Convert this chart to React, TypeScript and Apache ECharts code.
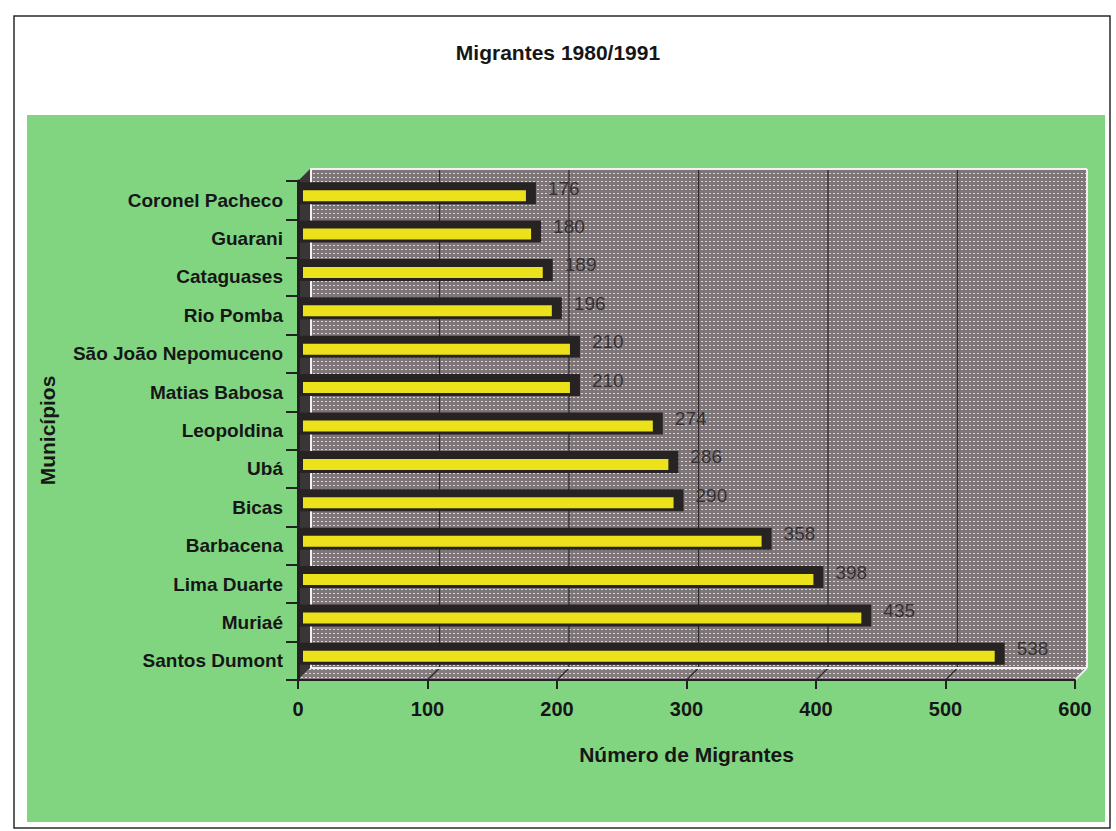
import React, { useEffect, useRef } from "react";
import * as echarts from "echarts";

const titleText = "Migrantes 1980/1991";
const categories = [
  "Coronel Pacheco",
  "Guarani",
  "Cataguases",
  "Rio Pomba",
  "São João Nepomuceno",
  "Matias Babosa",
  "Leopoldina",
  "Ubá",
  "Bicas",
  "Barbacena",
  "Lima Duarte",
  "Muriaé",
  "Santos Dumont",
];
const migrants = [176, 180, 189, 196, 210, 210, 274, 286, 290, 358, 398, 435, 538];
const xMin = 0;
const xMax = 600;
const xStep = 100;
const xInnerTicks = [100, 200, 300, 400, 500, 600];
const xAxisName = "Número de Migrantes";
const yAxisName = "Municípios";

const FONT = '"Liberation Sans", Arial, sans-serif';
const DEPTH = 12;

function makeDots(base: string, dot: string): any {
  try {
    const cv = document.createElement("canvas");
    cv.width = 4;
    cv.height = 4;
    const ctx = cv.getContext("2d");
    if (!ctx) return base;
    ctx.fillStyle = base;
    ctx.fillRect(0, 0, 4, 4);
    ctx.fillStyle = dot;
    ctx.fillRect(1, 1, 2, 1);
    return { image: cv, repeat: "repeat" };
  } catch (e) {
    return base;
  }
}

export default function App() {
  const ref = useRef<HTMLDivElement>(null);

  useEffect(() => {
    document.body.style.margin = "0";
    if (!ref.current) return;
    const chart = echarts.init(ref.current, null, { renderer: "svg" });

    const barData = migrants.map((v, i) => [v, i]);
    const wallFill = makeDots("#7d7577", "#d9d5d5");
    const floorFill = makeDots("#837b7d", "#dcd8d8");

    const option: any = {
      animation: false,
      backgroundColor: "#ffffff",
      title: {
        text: titleText,
        left: "center",
        top: 37,
        textStyle: { fontFamily: FONT, fontWeight: "bold", fontSize: 21, color: "#161616" },
      },
      graphic: [
        {
          type: "rect",
          z: -20,
          shape: { x: 14, y: 16, width: 1096, height: 812 },
          style: { fill: "#ffffff", stroke: "#2a2a2a", lineWidth: 1.5 },
        },
        {
          type: "rect",
          z: -19,
          shape: { x: 27, y: 115, width: 1078, height: 707 },
          style: { fill: "#81d581" },
        },
      ],
      grid: { left: 298, right: 41, top: 181, bottom: 151, containLabel: false },
      xAxis: {
        type: "value",
        min: xMin,
        max: xMax,
        interval: xStep,
        z: 5,
        name: xAxisName,
        nameLocation: "middle",
        nameGap: 64,
        nameTextStyle: { fontFamily: FONT, fontWeight: "bold", fontSize: 21, color: "#161616" },
        axisLine: { show: true, lineStyle: { color: "#222", width: 2 } },
        axisTick: { show: true, length: 9, lineStyle: { color: "#222", width: 2 } },
        axisLabel: { fontFamily: FONT, fontWeight: "bold", fontSize: 20, color: "#161616", margin: 19 },
        splitLine: { show: false },
      },
      yAxis: {
        type: "category",
        data: categories,
        inverse: true,
        z: 5,
        name: yAxisName,
        nameLocation: "middle",
        nameGap: 240,
        nameRotate: 90,
        nameTextStyle: { fontFamily: FONT, fontWeight: "bold", fontSize: 21, color: "#161616" },
        axisLine: { show: true, lineStyle: { color: "#222", width: 3 } },
        axisTick: { show: true, length: 12, lineStyle: { color: "#222", width: 2 } },
        axisLabel: { fontFamily: FONT, fontWeight: "bold", fontSize: 19, color: "#161616", margin: 15 },
        splitLine: { show: false },
      },
      series: [
        {
          type: "custom",
          name: "walls",
          z: 1,
          silent: true,
          clip: false,
          data: [[0, 0]],
          renderItem: (params: any, api: any) => {
            const cs = params.coordSys;
            const x = cs.x, y = cs.y, w = cs.width, h = cs.height;
            const d = DEPTH;
            const children: any[] = [
              {
                type: "rect",
                shape: { x: x + d, y: y - d, width: w, height: h },
                style: { fill: wallFill },
              },
              {
                type: "polygon",
                shape: { points: [[x, y], [x + d, y - d], [x + d, y + h - d], [x, y + h]] },
                style: { fill: "#3a3536" },
              },
              {
                type: "polygon",
                shape: { points: [[x, y + h], [x + d, y + h - d], [x + w + d, y + h - d], [x + w, y + h]] },
                style: { fill: floorFill },
              },
            ];
            xInnerTicks.forEach((t) => {
              const px = api.coord([t, 0])[0];
              if (t < xMax) {
                children.push({
                  type: "line",
                  shape: { x1: px + d, y1: y - d, x2: px + d, y2: y + h - d },
                  style: { stroke: "#2b2728", lineWidth: 1.2 },
                });
              }
              children.push({
                type: "line",
                shape: { x1: px, y1: y + h, x2: px + d, y2: y + h - d },
                style: { stroke: "#2b2728", lineWidth: 1.2 },
              });
            });
            const white = { stroke: "#f2f0f0", lineWidth: 2 };
            children.push(
              { type: "line", shape: { x1: x + d, y1: y - d, x2: x + w + d, y2: y - d }, style: white },
              { type: "line", shape: { x1: x + d + 1, y1: y - d, x2: x + d + 1, y2: y + h - d }, style: white },
              { type: "line", shape: { x1: x + d, y1: y + h - d, x2: x + w + d, y2: y + h - d }, style: white },
              { type: "line", shape: { x1: x + w + d, y1: y - d, x2: x + w + d, y2: y + h - d }, style: white },
              { type: "line", shape: { x1: x + w + d, y1: y + h - d, x2: x + w, y2: y + h }, style: white }
            );
            return { type: "group", children };
          },
        },
        {
          type: "custom",
          name: "Migrantes",
          z: 3,
          clip: false,
          data: barData,
          encode: { x: 0, y: 1 },
          renderItem: (params: any, api: any) => {
            const v = api.value(0);
            const idx = api.value(1);
            const end = api.coord([v, idx]);
            const start = api.coord([0, idx]);
            const c = end[1];
            const x0 = start[0];
            const xv = end[0];
            return {
              type: "group",
              children: [
                {
                  type: "rect",
                  shape: { x: x0, y: c - 18, width: xv + 10 - x0, height: 22 },
                  style: { fill: "#272322" },
                },
                {
                  type: "rect",
                  shape: { x: x0 + 5, y: c - 10, width: xv - x0 - 5, height: 11 },
                  style: { fill: "#ece21c" },
                },
                {
                  type: "text",
                  x: xv + 22,
                  y: c - 12,
                  style: {
                    text: String(v),
                    fill: "#353132",
                    font: `19px ${FONT}`,
                    align: "left",
                    verticalAlign: "middle",
                    textAlign: "left",
                    textVerticalAlign: "middle",
                  },
                },
              ],
            };
          },
        },
      ],
    };

    chart.setOption(option);
    return () => chart.dispose();
  }, []);

  return <div ref={ref} style={{ width: 1116, height: 831 }} />;
}
